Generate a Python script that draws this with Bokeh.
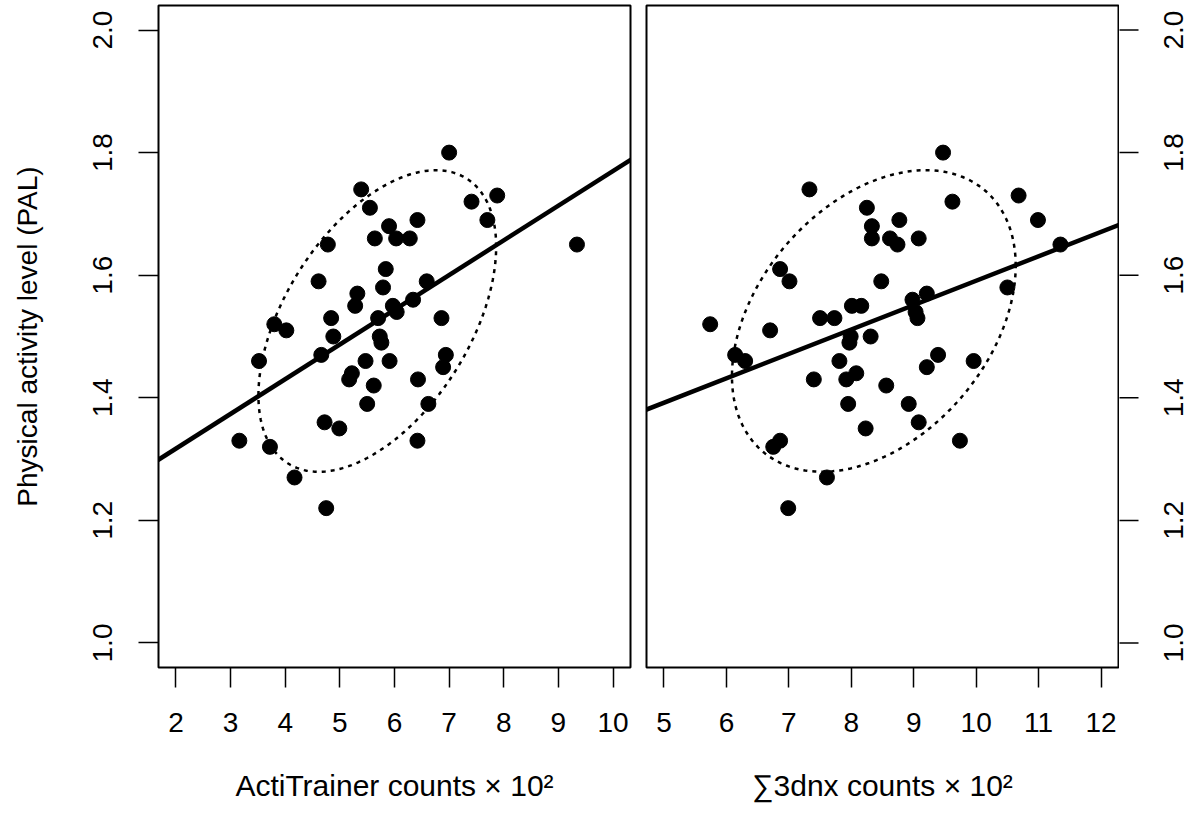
import math
import numpy as np
from bokeh.plotting import figure
from bokeh.layouts import row
from bokeh.models import Range1d, FixedTicker, PrintfTickFormatter, Slope
from bokeh.core.properties import value
from bokeh.embed import file_html
from bokeh.resources import INLINE

# ---- data ----
acti_counts = [5.39, 5.55, 5.90, 5.64, 6.03, 6.28, 4.78, 4.61, 5.84, 5.79,
               5.32, 5.28, 5.97, 6.04, 5.70, 4.84, 4.88, 5.73, 5.76, 4.66,
               5.47, 5.91, 5.22, 5.17, 5.62, 5.50, 3.80, 4.02, 3.52, 4.72,
               4.99, 3.16, 3.72, 4.17, 4.75, 7.00, 7.41, 7.88, 7.70, 9.34,
               6.42, 6.59, 6.34, 6.86, 6.94, 6.89, 6.43, 6.62, 6.42]
acti_pal = [1.74, 1.71, 1.68, 1.66, 1.66, 1.66, 1.65, 1.59, 1.61, 1.58,
            1.57, 1.55, 1.55, 1.54, 1.53, 1.53, 1.50, 1.50, 1.49, 1.47,
            1.46, 1.46, 1.44, 1.43, 1.42, 1.39, 1.52, 1.51, 1.46, 1.36,
            1.35, 1.33, 1.32, 1.27, 1.22, 1.80, 1.72, 1.73, 1.69, 1.65,
            1.69, 1.59, 1.56, 1.53, 1.47, 1.45, 1.43, 1.39, 1.33]

dnx_counts = [7.33, 6.86, 7.01, 5.74, 6.70, 6.14, 6.30, 7.50, 7.73, 8.01,
              8.16, 7.99, 7.97, 8.31, 7.81, 7.40, 7.92, 8.08, 7.95, 8.23,
              6.86, 6.75, 7.61, 6.99, 9.47, 8.25, 8.77, 8.33, 8.33, 8.62,
              8.74, 9.08, 9.62, 10.68, 10.99, 11.35, 10.50, 8.48, 8.98, 9.21,
              9.03, 9.06, 9.39, 9.21, 9.96, 8.56, 8.92, 9.08, 9.74]
dnx_pal = [1.74, 1.61, 1.59, 1.52, 1.51, 1.47, 1.46, 1.53, 1.53, 1.55,
           1.55, 1.50, 1.49, 1.50, 1.46, 1.43, 1.43, 1.44, 1.39, 1.35,
           1.33, 1.32, 1.27, 1.22, 1.80, 1.71, 1.69, 1.68, 1.66, 1.66,
           1.65, 1.66, 1.72, 1.73, 1.69, 1.65, 1.58, 1.59, 1.56, 1.57,
           1.54, 1.53, 1.47, 1.45, 1.46, 1.42, 1.39, 1.36, 1.33]

acti_ticks = [2, 3, 4, 5, 6, 7, 8, 9, 10]
dnx_ticks = [5, 6, 7, 8, 9, 10, 11, 12]
pal_ticks = [1.0, 1.2, 1.4, 1.6, 1.8, 2.0]
pal_tick_labels = ["1.0", "1.2", "1.4", "1.6", "1.8", "2.0"]

acti_lim = (2, 10)
dnx_lim = (5, 12)
pal_lim = (1.0, 2.0)

acti_fit = (1.204, 0.0566)   # intercept, slope
dnx_fit = (1.193, 0.0398)
ELLIPSE_K = 1.84

FONT = "Liberation Sans"
TICK_FONT_SIZE = "28px"
FRAME_W, FRAME_H = 472, 662
BORDER_TOP, BORDER_BOTTOM = 5, 150
TICK_LEN = 20
RIGHT_W = 76


def padded(lim, frac=0.04):
    a, b = lim
    d = (b - a) * frac
    return Range1d(a - d, b + d)


def ellipse(x, y, k, n=240):
    x = np.asarray(x, float)
    y = np.asarray(y, float)
    c = np.cov(x, y)
    L = np.linalg.cholesky(c)
    t = np.linspace(0, 2 * np.pi, n)
    u = np.vstack([np.cos(t), np.sin(t)])
    pts = np.array([[x.mean()], [y.mean()]]) + k * (L @ u)
    return pts[0], pts[1]


def style_axes(p):
    for ax in p.axis:
        ax.axis_line_color = None
        ax.major_tick_out = TICK_LEN
        ax.major_tick_in = 0
        ax.major_tick_line_width = 1.5
        ax.major_tick_line_color = "black"
        ax.minor_tick_line_color = None
        ax.major_label_text_font = FONT
        ax.major_label_text_font_size = TICK_FONT_SIZE
        ax.major_label_text_color = "black"
        ax.axis_label_text_font = FONT
        ax.axis_label_text_font_style = "normal"
        ax.axis_label_text_color = "black"


def panel(xs, ys, xlim, xticks, xlabel, fit, left):
    p = figure(frame_width=FRAME_W, frame_height=FRAME_H,
               x_range=padded(xlim), y_range=padded(pal_lim),
               output_backend="svg", toolbar_location=None,
               y_axis_location="left" if left else None,
               min_border_top=BORDER_TOP,
               min_border_left=158 if left else 8,
               min_border_right=8 if left else 1,
               min_border_bottom=BORDER_BOTTOM)
    p.grid.visible = False
    p.background_fill_color = "white"
    p.border_fill_color = "white"
    p.outline_line_color = "black"
    p.outline_line_width = 2
    p.outline_line_alpha = 1
    style_axes(p)

    p.xaxis.ticker = FixedTicker(ticks=xticks)
    p.xaxis.major_label_standoff = 25
    p.xaxis.axis_label = xlabel
    p.xaxis.axis_label_text_font_size = "30px"
    p.xaxis.axis_label_standoff = 34

    if left:
        p.yaxis.ticker = FixedTicker(ticks=pal_ticks)
        p.yaxis.formatter = PrintfTickFormatter(format="%.1f")
        p.yaxis.major_label_orientation = "vertical"
        p.yaxis.major_label_standoff = 26
        p.yaxis.axis_label = "Physical activity level (PAL)"
        p.yaxis.axis_label_text_font_size = "28px"
        p.yaxis.axis_label_standoff = 48

    ex, ey = ellipse(xs, ys, ELLIPSE_K)
    p.line(ex, ey, line_color="black", line_width=2.5, line_dash="4 5")

    p.add_layout(Slope(gradient=fit[1], y_intercept=fit[0],
                       line_color="black", line_width=4.5))

    p.scatter(xs, ys, size=15, fill_color="black", line_color="black")
    return p


def right_axis_strip():
    # strip right of the second panel: x in pixels from the panel's frame edge
    p = figure(frame_width=RIGHT_W, frame_height=FRAME_H,
               x_range=Range1d(1, 1 + RIGHT_W), y_range=padded(pal_lim),
               output_backend="svg", toolbar_location=None,
               x_axis_location=None, y_axis_location=None,
               min_border_top=BORDER_TOP, min_border_bottom=BORDER_BOTTOM,
               min_border_left=0, min_border_right=0)
    p.grid.visible = False
    p.outline_line_color = None
    p.background_fill_color = "white"
    p.border_fill_color = "white"
    n = len(pal_ticks)
    p.segment(x0=[0] * n, x1=[TICK_LEN] * n, y0=pal_ticks, y1=pal_ticks,
              line_color="black", line_width=1.5)
    p.text(x=[45] * n, y=pal_ticks, text=pal_tick_labels, angle=math.pi / 2,
           text_align="center", text_baseline="top",
           text_font=value(FONT), text_font_size=TICK_FONT_SIZE,
           text_color="black")
    return p


p1 = panel(acti_counts, acti_pal, acti_lim, acti_ticks,
           "ActiTrainer counts \u00d7 10\u00b2", acti_fit, True)
p2 = panel(dnx_counts, dnx_pal, dnx_lim, dnx_ticks,
           "\u22113dnx counts \u00d7 10\u00b2", dnx_fit, False)
p3 = right_axis_strip()

layout = row(p1, p2, p3)
open("out.html", "w").write(file_html(layout, INLINE))
